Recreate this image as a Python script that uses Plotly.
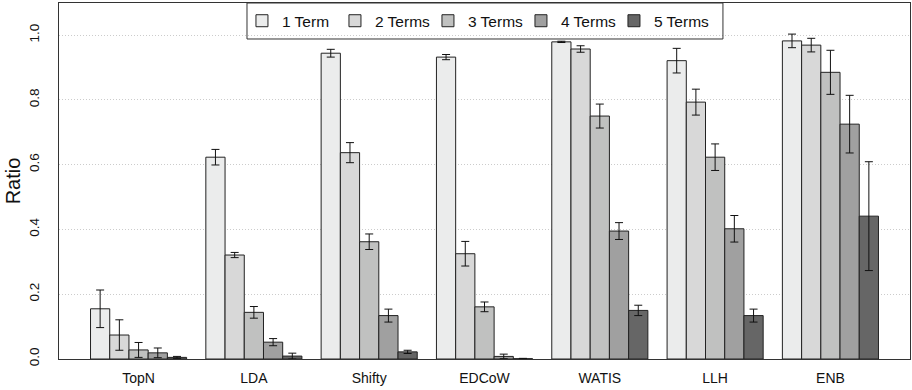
import plotly.graph_objects as go

methods = ["TopN", "LDA", "Shifty", "EDCoW", "WATIS", "LLH", "ENB"]
series_names = ["1 Term", "2 Terms", "3 Terms", "4 Terms", "5 Terms"]

term1 = [0.155, 0.623, 0.944, 0.932, 0.979, 0.921, 0.982]
term2 = [0.074, 0.321, 0.637, 0.325, 0.957, 0.793, 0.969]
term3 = [0.028, 0.144, 0.362, 0.161, 0.750, 0.623, 0.885]
term4 = [0.019, 0.052, 0.134, 0.008, 0.395, 0.402, 0.725]
term5 = [0.005, 0.009, 0.022, 0.001, 0.150, 0.134, 0.441]

err1 = [0.058, 0.024, 0.012, 0.008, 0.002, 0.038, 0.021]
err2 = [0.047, 0.008, 0.031, 0.038, 0.010, 0.040, 0.021]
err3 = [0.023, 0.018, 0.024, 0.015, 0.037, 0.041, 0.068]
err4 = [0.015, 0.011, 0.020, 0.007, 0.026, 0.041, 0.089]
err5 = [0.003, 0.009, 0.005, 0.001, 0.016, 0.020, 0.168]

y_ticks = [0.0, 0.2, 0.4, 0.6, 0.8, 1.0]
y_ticktext = ["0.0", "0.2", "0.4", "0.6", "0.8", "1.0"]

colors = ["#ebecec", "#d8d8d8", "#c0c1c0", "#a0a0a0", "#666666"]

values = [term1, term2, term3, term4, term5]
errors = [err1, err2, err3, err4, err5]

FONT = "Liberation Sans, Arial, Helvetica, sans-serif"

fig = go.Figure()
for i, (name, vals, errs, col) in enumerate(zip(series_names, values, errors, colors)):
    fig.add_trace(go.Bar(
        name=name, x=methods, y=vals,
        marker=dict(color=col, line=dict(color="#222222", width=1)),
        error_y=dict(type="data", array=errs, visible=True,
                     color="#111111", thickness=1, width=4),
        legendwidth=70 if i == len(series_names) - 1 else None,
    ))

fig.update_layout(
    width=912, height=390,
    margin=dict(l=59, r=2, t=3, b=31),
    paper_bgcolor="white", plot_bgcolor="white",
    barmode="group", bargap=1/6, bargroupgap=0,
    font=dict(family=FONT, color="#111111"),
    showlegend=True,
    legend=dict(
        orientation="h", x=0.215, xanchor="left", y=0.949, yanchor="middle",
        bgcolor="rgba(0,0,0,0)", borderwidth=0,
        font=dict(family=FONT, size=15.5, color="#111111"),
        entrywidth=48, entrywidthmode="pixels",
        traceorder="normal",
    ),
    shapes=[dict(type="rect", xref="paper", yref="paper",
                 x0=0.2209, x1=0.7802, y0=0.8989, y1=1.0,
                 line=dict(color="#333333", width=1), fillcolor="rgba(0,0,0,0)",
                 layer="above")],
)

fig.update_xaxes(
    range=[-0.69, 6.69],
    showline=True, mirror=True, linecolor="#333333", linewidth=1,
    showgrid=False, ticks="", ticklabelstandoff=6,
    tickfont=dict(family=FONT, size=14, color="#111111"),
)
fig.update_yaxes(
    range=[0, 1.099],
    tickvals=y_ticks, ticktext=y_ticktext, tickangle=-90,
    showline=True, mirror=True, linecolor="#333333", linewidth=1,
    showgrid=True, gridcolor="#cccccc", griddash="1px,2px", gridwidth=1,
    zeroline=False, ticks="", ticklabelstandoff=14,
    tickfont=dict(family=FONT, size=13.5, color="#111111"),
    title=dict(text="Ratio", font=dict(family=FONT, size=20, color="#111111"), standoff=0),
)

fig.write_html("out.html",
               config={"displayModeBar": False},
               post_script="document.body.style.margin='0';document.body.style.padding='0';")
